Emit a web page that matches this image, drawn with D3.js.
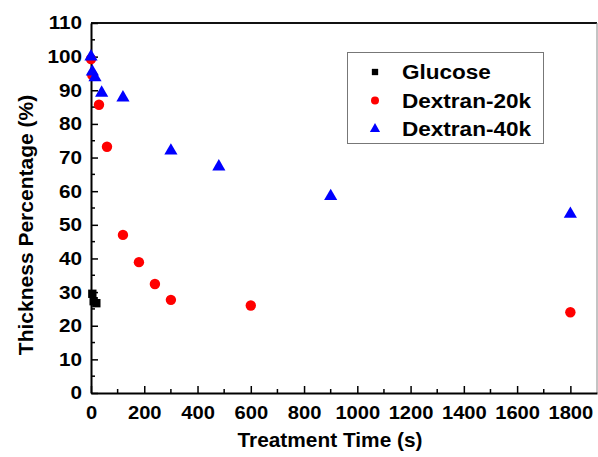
<!DOCTYPE html>
<html><head><meta charset="utf-8">
<script src="https://cdn.jsdelivr.net/npm/d3@7"></script>
<style>body{margin:0;background:#fff}svg{display:block}text{font-family:"Liberation Sans",Arial,sans-serif;font-weight:bold}</style>
</head><body><svg id="c" width="598" height="457"></svg>
<script>
const glucoseT = [5, 10, 20];
const glucoseV = [29.5, 27.3, 26.7];
const dex20T = [0, 5, 30, 60, 120, 180, 240, 300, 600, 1800];
const dex20V = [99.3, 94.5, 85.7, 73.2, 47.0, 38.9, 32.4, 27.7, 26.0, 24.0];
const dex40T = [0, 5, 15, 40, 120, 300, 480, 900, 1800];
const dex40V = [100, 95.5, 93.8, 89.2, 87.8, 72.0, 67.3, 58.5, 53.2];
const xTicks = [0,200,400,600,800,1000,1200,1400,1600,1800];
const yTicks = [0,10,20,30,40,50,60,70,80,90,100,110];
const seriesNames = ["Glucose","Dextran-20k","Dextran-40k"];

const svg = d3.select("#c");
const L=91, R=597, T=23, B=393;
const x = d3.scaleLinear().domain([0,1900]).range([L,R]);
const y = d3.scaleLinear().domain([0,110]).range([B,T]);
const SX = 1.12;

// frame
svg.append("line").attr("x1",L).attr("x2",R).attr("y1",T).attr("y2",T).attr("stroke","#111").attr("stroke-width",2);
svg.append("line").attr("x1",R).attr("x2",R).attr("y1",T).attr("y2",B).attr("stroke","#888").attr("stroke-width",1);

// axes (ticks inward)
const xMinor = d3.range(100,1900,200);
const gx = svg.append("g").attr("transform",`translate(0,${B})`);
gx.call(d3.axisBottom(x).tickValues(xTicks).tickSizeInner(-7).tickSizeOuter(0).tickPadding(13).tickFormat(d3.format("d")));
gx.selectAll(".tick line").attr("stroke-width",1.5);
gx.select(".domain").attr("stroke-width",2);
gx.selectAll("text").attr("font-size",18).attr("font-weight","bold").attr("fill","#000")
  .attr("font-family","Liberation Sans, Arial, sans-serif").attr("transform",`scale(${SX},1)`);
gx.selectAll(".minor").data(xMinor).enter().append("line").attr("x1",d=>x(d)).attr("x2",d=>x(d)).attr("y1",0).attr("y2",-4).attr("stroke","#000").attr("stroke-width",1.5);

const yMinor = d3.range(5,110,10);
const gy = svg.append("g").attr("transform",`translate(${L},0)`);
gy.call(d3.axisLeft(y).tickValues(yTicks).tickSizeInner(-7).tickSizeOuter(0).tickPadding(8));
gy.selectAll(".tick line").attr("stroke-width",1.5);
gy.select(".domain").attr("stroke-width",2);
gy.selectAll("text").attr("font-size",18.5).attr("font-weight","bold").attr("fill","#000")
  .attr("font-family","Liberation Sans, Arial, sans-serif").attr("transform",`scale(${SX},1)`);
gy.selectAll(".minor").data(yMinor).enter().append("line").attr("y1",d=>y(d)).attr("y2",d=>y(d)).attr("x1",0).attr("x2",4).attr("stroke","#000").attr("stroke-width",1.5);

// titles
svg.append("text").attr("transform","translate(330,447) scale(1.07,1)").attr("text-anchor","middle").attr("font-size",19.5).text("Treatment Time (s)");
svg.append("text").attr("transform",`translate(33,225) rotate(-90)`).attr("text-anchor","middle").attr("font-size",21).text("Thickness Percentage (%)");

const zip = (t,v)=>t.map((d,i)=>({t:d,v:v[i]}));
const sq = d3.symbol().type(d3.symbolSquare).size(70);
const ci = d3.symbol().type(d3.symbolCircle).size(85);
const tr = d3.symbol().type(d3.symbolTriangle).size(75);

const plot = svg.append("g");
plot.selectAll(".g").data(zip(glucoseT,glucoseV)).enter().append("path").attr("d",sq).attr("fill","#000").attr("transform",d=>`translate(${x(d.t)},${y(d.v)})`);
plot.selectAll(".r").data(zip(dex20T,dex20V)).enter().append("path").attr("d",ci).attr("fill","#ff0000").attr("transform",d=>`translate(${x(d.t)},${y(d.v)})`);
plot.selectAll(".b").data(zip(dex40T,dex40V)).enter().append("path").attr("d",tr).attr("fill","#0000ff").attr("transform",d=>`translate(${x(d.t)},${y(d.v)})`);

// legend
const lg = svg.append("g");
lg.append("rect").attr("x",347.5).attr("y",52.5).attr("width",196).attr("height",91).attr("fill","#fff").attr("stroke","#777").attr("stroke-width",1);
const legSyms = [d3.symbol().type(d3.symbolSquare).size(40), d3.symbol().type(d3.symbolCircle).size(50), d3.symbol().type(d3.symbolTriangle).size(45)];
const legCols = ["#000","#ff0000","#0000ff"];
seriesNames.forEach((n,i)=>{
  const yy = 72 + i*28.5;
  lg.append("path").attr("d",legSyms[i]).attr("fill",legCols[i]).attr("transform",`translate(375,${yy})`);
  lg.append("text").attr("transform",`translate(402,${yy+7}) scale(1.1,1)`).attr("font-size",20.5).text(n);
});
</script></body></html>
